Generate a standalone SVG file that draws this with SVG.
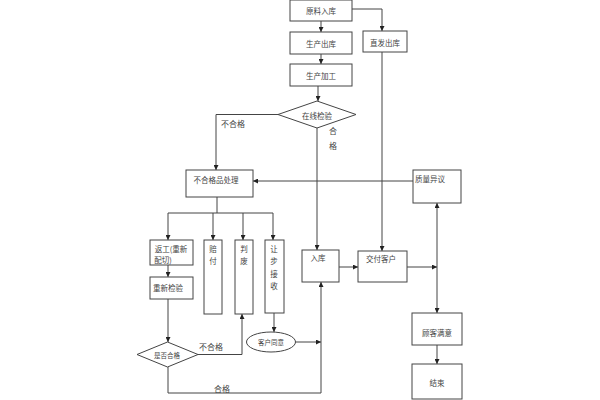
<svg xmlns="http://www.w3.org/2000/svg" width="600" height="400" viewBox="0 0 600 400">
<defs>
<marker id="ah" viewBox="0 0 8 8" refX="8" refY="4" markerWidth="5" markerHeight="5" orient="auto-start-reverse" markerUnits="userSpaceOnUse">
<path d="M0,0 L8,4 L0,8 z" fill="#222"/>
</marker>
<style>
.b{fill:#fff;stroke:#444;stroke-width:1}
.c{fill:none;stroke:#444;stroke-width:1}
.t{font-family:"Noto Sans CJK SC","Noto Sans",sans-serif;font-size:7.5px;fill:#444;text-anchor:middle;dominant-baseline:central}
.l{font-family:"Noto Sans CJK SC","Noto Sans",sans-serif;font-size:8px;fill:#444;text-anchor:middle;dominant-baseline:central}
</style>
</defs>
<rect width="600" height="400" fill="#fff"/>
<g id="connectors">
<path class="c" d="M321,21 V32" marker-end="url(#ah)"/>
<path class="c" d="M321,54 V64" marker-end="url(#ah)"/>
<path class="c" d="M352,9 H382 V31" marker-end="url(#ah)"/>
<path class="c" d="M318,86 V101" marker-end="url(#ah)"/>
<path class="c" d="M278,114.5 H216 V170" marker-end="url(#ah)"/>
<path class="c" d="M317,128 V250" marker-end="url(#ah)"/>
<path class="c" d="M382,52 V251" marker-end="url(#ah)"/>
<path class="c" d="M413,181 H253" marker-end="url(#ah)"/>
<path class="c" d="M217,197 V213"/>
<path class="c" d="M168,213 H273"/>
<path class="c" d="M168,213 V240" marker-end="url(#ah)"/>
<path class="c" d="M213,213 V240" marker-end="url(#ah)"/>
<path class="c" d="M243,213 V240" marker-end="url(#ah)"/>
<path class="c" d="M273,213 V240" marker-end="url(#ah)"/>
<path class="c" d="M168,265 V277" marker-end="url(#ah)"/>
<path class="c" d="M168,299 V342" marker-end="url(#ah)"/>
<path class="c" d="M198,354.5 H242 V314" marker-end="url(#ah)"/>
<path class="c" d="M274,313 V332" marker-end="url(#ah)"/>
<path class="c" d="M295.5,342 H321" marker-end="url(#ah)"/>
<path class="c" d="M168,367 V393 H321 V282" marker-end="url(#ah)"/>
<path class="c" d="M339,267 H358" marker-end="url(#ah)"/>
<path class="c" d="M407,267 H437" marker-end="url(#ah)"/>
<path class="c" d="M437,203 V313" marker-start="url(#ah)" marker-end="url(#ah)"/>
<path class="c" d="M437,345 V364" marker-end="url(#ah)"/>
<text class="l" x="233" y="123">不合格</text>
<text class="l" x="333" y="130">合</text>
<text class="l" x="333" y="145">格</text>
<text class="l" x="211" y="346">不合格</text>
<text class="l" x="222" y="388">合格</text>
</g>
<g id="n1"><rect class="b" x="290" y="0" width="62" height="21"/><text class="t" x="321" y="10">原料入库</text></g>
<g id="n2"><rect class="b" x="290" y="32" width="62" height="22"/><text class="t" x="321" y="43">生产出库</text></g>
<g id="n3"><rect class="b" x="290" y="64" width="62" height="22"/><text class="t" x="321" y="75">生产加工</text></g>
<g id="n4"><rect class="b" x="363" y="31" width="44" height="21"/><text class="t" x="385" y="42">直发出库</text></g>
<g id="n5"><polygon class="b" points="278,114.5 317,101 356,114.5 317,128"/><text class="t" x="317" y="115">在线检验</text></g>
<g id="n6"><rect class="b" x="186" y="170" width="67" height="27"/><text class="t" x="216" y="179">不合格品处理</text></g>
<g id="n7"><rect class="b" x="413" y="170" width="48" height="33"/><text class="t" x="430" y="178">质量异议</text></g>
<g id="n8"><rect class="b" x="150" y="240" width="43" height="25"/><text class="t" x="171" y="248">返工(重新</text><text class="t" x="163" y="259">配切)</text></g>
<g id="n9"><rect class="b" x="150" y="277" width="43" height="22"/><text class="t" x="168" y="287">重新检验</text></g>
<g id="n10"><rect class="b" x="204" y="240" width="18" height="74"/><text class="t" x="213" y="248">赔</text><text class="t" x="213" y="260">付</text></g>
<g id="n11"><rect class="b" x="235" y="240" width="18" height="74"/><text class="t" x="244" y="248">判</text><text class="t" x="244" y="260">废</text></g>
<g id="n12"><rect class="b" x="265" y="240" width="19" height="73"/><text class="t" x="274" y="248">让</text><text class="t" x="274" y="260">步</text><text class="t" x="274" y="273">接</text><text class="t" x="274" y="285">收</text></g>
<g id="n13"><ellipse class="b" cx="271" cy="342" rx="24.5" ry="10"/><text class="t" x="271" y="342" style="font-size:6.5px">客户同意</text></g>
<g id="n14"><polygon class="b" points="137,354.5 167.5,342 198,354.5 167.5,367"/><text class="t" x="167" y="355" style="font-size:6.5px">是否合格</text></g>
<g id="n15"><rect class="b" x="302" y="250" width="37" height="32"/><text class="t" x="318" y="257">入库</text></g>
<g id="n16"><rect class="b" x="358" y="251" width="49" height="31"/><text class="t" x="381" y="258">交付客户</text></g>
<g id="n17"><rect class="b" x="412" y="313" width="50" height="32"/><text class="t" x="437" y="332">顾客满意</text></g>
<g id="n18"><rect class="b" x="412" y="364" width="50" height="35"/><text class="t" x="437" y="382">结束</text></g>
</svg>
